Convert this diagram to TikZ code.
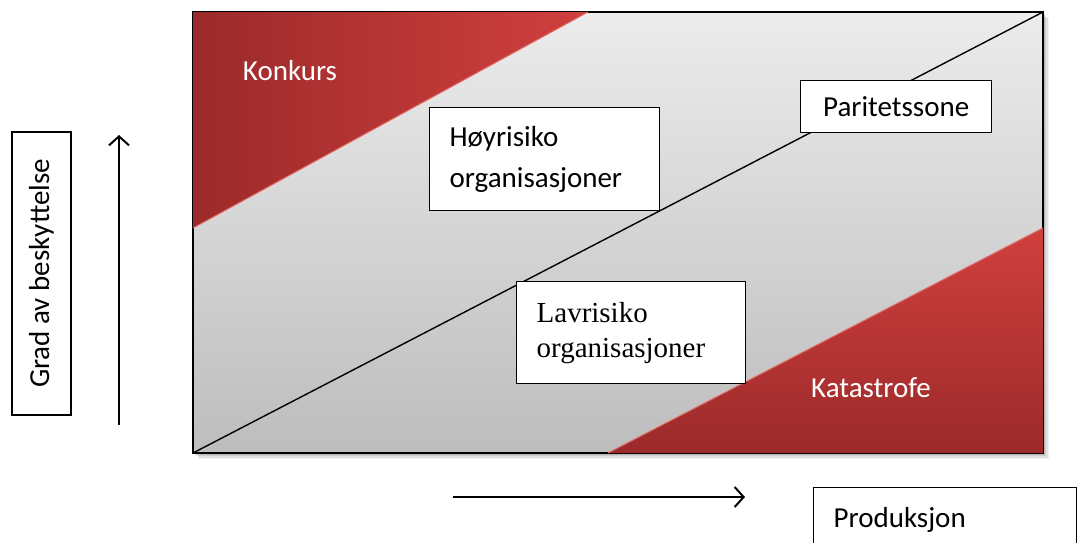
\documentclass[tikz,border=0pt]{standalone}
\usepackage{fontspec}
\setmainfont{Carlito}
\newfontfamily\timesfont{Liberation Serif}
\usetikzlibrary{arrows.meta}
\definecolor{zonetop}{HTML}{ECECEC}
\definecolor{zonebot}{HTML}{BDBDBD}
\definecolor{reddark}{HTML}{9C2A2A}
\definecolor{redlight}{HTML}{D0403E}
\definecolor{rededge}{HTML}{E26A66}
\begin{document}
\begin{tikzpicture}[x=1pt,y=-1pt,
  txt/.style={font=\fontsize{29}{41}\selectfont},
  box/.style={draw=black, line width=1.3pt, fill=white, txt},
  redlabel/.style={txt, text=white, anchor=base},
  axis/.style={line width=2pt, -{Straight Barb[length=9pt,width=20pt,line width=2pt]}},
  frame/.style={draw=black, line width=1.6pt},
  split/.style={draw=black, line width=1.4pt}]
\useasboundingbox (0,0) rectangle (1077,542);

% corners of the zone diagram
\coordinate (bl) at (193,453);
\coordinate (tr) at (1043,12);

% soft shadow under the zone diagram
\foreach \d/\o in {6/0.05,4.5/0.07,3/0.09,1.5/0.10}
  \fill[black,opacity=\o] (193+\d,12+\d) rectangle (1043+\d,453+\d);

% grey zone field
\shade[top color=zonetop, bottom color=zonebot] (193,12) rectangle (1043,453);
\draw[frame] (193,12) rectangle (1043,453);

% parity line
\draw[split] (bl) -- (tr);

% bankruptcy corner
\shade[left color=reddark, right color=redlight] (193,12) -- (588,12) -- (193,228) -- cycle;
\draw[rededge, line width=1pt] (588,12) -- (193,228);
\node[redlabel] (konk) at (290,80) {Konkurs};

% catastrophe corner
\shade[top color=redlight, bottom color=reddark] (608,453) -- (1043,453) -- (1043,228) -- cycle;
\draw[rededge, line width=1pt] (608,453) -- (1043,228);
\node[redlabel] (kat) at (871,397) {Katastrofe};

% zone labels
\node[box, anchor=north west, minimum width=230pt, minimum height=103pt,
      text width=190pt, inner xsep=20pt, align=left] (hoy) at (429,107)
      {Høyrisiko\\organisasjoner};
\node[box, anchor=north west, minimum width=229pt, minimum height=102pt,
      text width=189pt, inner xsep=20pt, align=left,
      font=\timesfont\fontsize{29}{35}\selectfont] (lav) at (516,281)
      {Lavrisiko\\organisasjoner};
\node[box, anchor=north west, minimum width=191pt, minimum height=52pt] (par) at (800,80)
      {Paritetssone};

% axes
\node[box, rotate=90, minimum width=283pt, minimum height=59pt] (grad) at (41.5,273.5)
      {Grad av beskyttelse};
\coordinate (ytail) at (119,425);
\coordinate (yhead) at (119,135);
\draw[axis] (ytail) -- (yhead);

\coordinate (xtail) at (453,497);
\coordinate (xhead) at (745,497);
\draw[axis] (xtail) -- (xhead);
\node[box, anchor=north west, minimum width=263pt, minimum height=64pt,
      text width=223pt, inner xsep=20pt, align=left] (prod) at (813,487)
      {Produksjon};
\end{tikzpicture}
\end{document}
